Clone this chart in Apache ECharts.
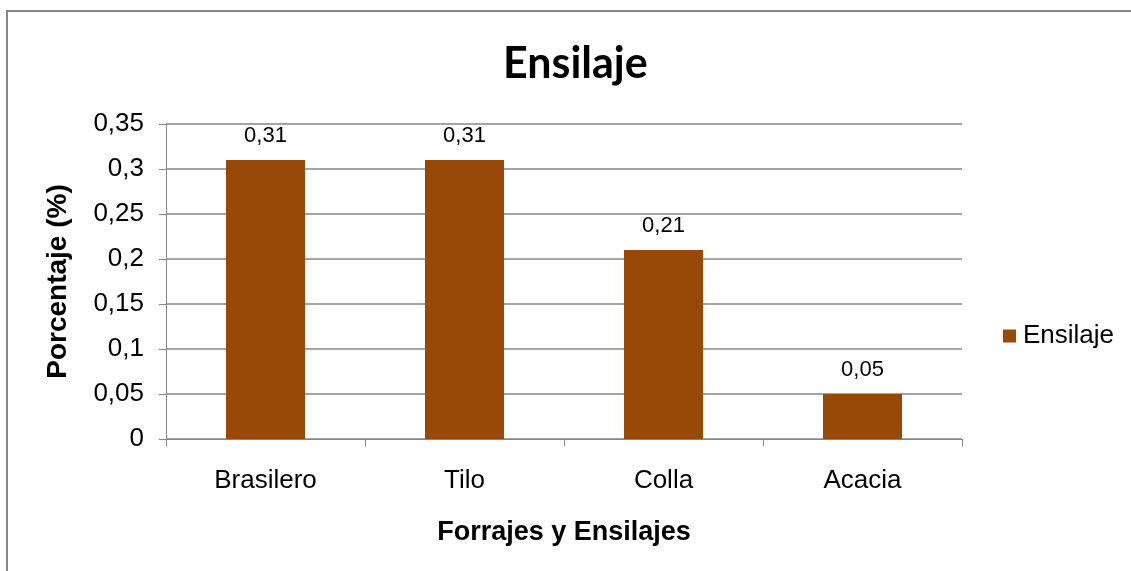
<!DOCTYPE html>
<html>
<head>
<meta charset="utf-8">
<script src="https://cdn.jsdelivr.net/npm/echarts@6/dist/echarts.min.js"></script>
<style>
  html, body { margin: 0; padding: 0; background: #ffffff; }
  #chart { width: 1131px; height: 571px; }
</style>
</head>
<body>
<div id="chart"></div>
<script>
// Categories and values
const categories = ['Brasilero', 'Tilo', 'Colla', 'Acacia'];
const ensilaje = [0.31, 0.31, 0.21, 0.05];
const seriesName = 'Ensilaje';
const chartTitle = 'Ensilaje';
const yAxisTitle = 'Porcentaje (%)';
const xAxisTitle = 'Forrajes y Ensilajes';

// Decimal comma formatting, e.g. 0.35 -> "0,35"
function fmt(v) {
  return String(+Number(v).toFixed(2)).replace('.', ',');
}

const gray = '#868686';
const sans = '"Liberation Sans", Arial, sans-serif';

const chart = echarts.init(document.getElementById('chart'), null, { renderer: 'canvas' });

chart.setOption({
  backgroundColor: '#ffffff',
  animation: false,
  graphic: [
    {
      type: 'rect',
      shape: { x: 7, y: 11, width: 1140, height: 620 },
      style: { fill: 'none', stroke: gray, lineWidth: 2 },
      silent: true
    }
  ],
  title: {
    text: chartTitle,
    left: 498,
    top: 38,
    textStyle: {
      fontFamily: 'Lato, "Open Sans", sans-serif',
      fontWeight: 'bold',
      fontSize: 43,
      color: '#000000'
    }
  },
  legend: {
    data: [seriesName],
    orient: 'vertical',
    left: 998,
    top: 318,
    itemWidth: 13,
    itemHeight: 13,
    itemGap: 8,
    icon: 'rect',
    textStyle: { fontFamily: sans, fontSize: 26, color: '#000000', padding: [0, 0, 0, 2] }
  },
  grid: {
    left: 166,
    right: 169,
    top: 124,
    bottom: 132,
    containLabel: false
  },
  xAxis: {
    type: 'category',
    data: categories,
    name: xAxisTitle,
    nameLocation: 'middle',
    nameGap: 80,
    nameTextStyle: { fontFamily: sans, fontWeight: 'bold', fontSize: 27, color: '#000000' },
    axisLine: { show: true, lineStyle: { color: gray, width: 1 } },
    axisTick: { show: true, length: 7, alignWithLabel: false, lineStyle: { color: gray } },
    axisLabel: { fontFamily: sans, fontSize: 26, color: '#000000', margin: 29 },
    splitLine: { show: false }
  },
  yAxis: {
    type: 'value',
    min: 0,
    max: 0.35,
    interval: 0.05,
    name: yAxisTitle,
    nameLocation: 'middle',
    nameGap: 94,
    nameRotate: 90,
    nameTextStyle: { fontFamily: sans, fontWeight: 'bold', fontSize: 28, color: '#000000' },
    axisLine: { show: true, lineStyle: { color: gray, width: 1 } },
    axisTick: { show: true, length: 7, inside: false, lineStyle: { color: gray } },
    axisLabel: { fontFamily: sans, fontSize: 26, color: '#000000', margin: 22, formatter: fmt },
    splitLine: { show: true, lineStyle: { color: gray, width: 1.5 } }
  },
  series: [
    {
      name: seriesName,
      type: 'bar',
      data: ensilaje,
      barWidth: 79,
      itemStyle: { color: '#984807' },
      label: {
        show: true,
        position: 'top',
        distance: 13,
        fontFamily: sans,
        fontSize: 22,
        color: '#000000',
        formatter: p => fmt(p.value)
      }
    }
  ]
});
</script>
</body>
</html>
